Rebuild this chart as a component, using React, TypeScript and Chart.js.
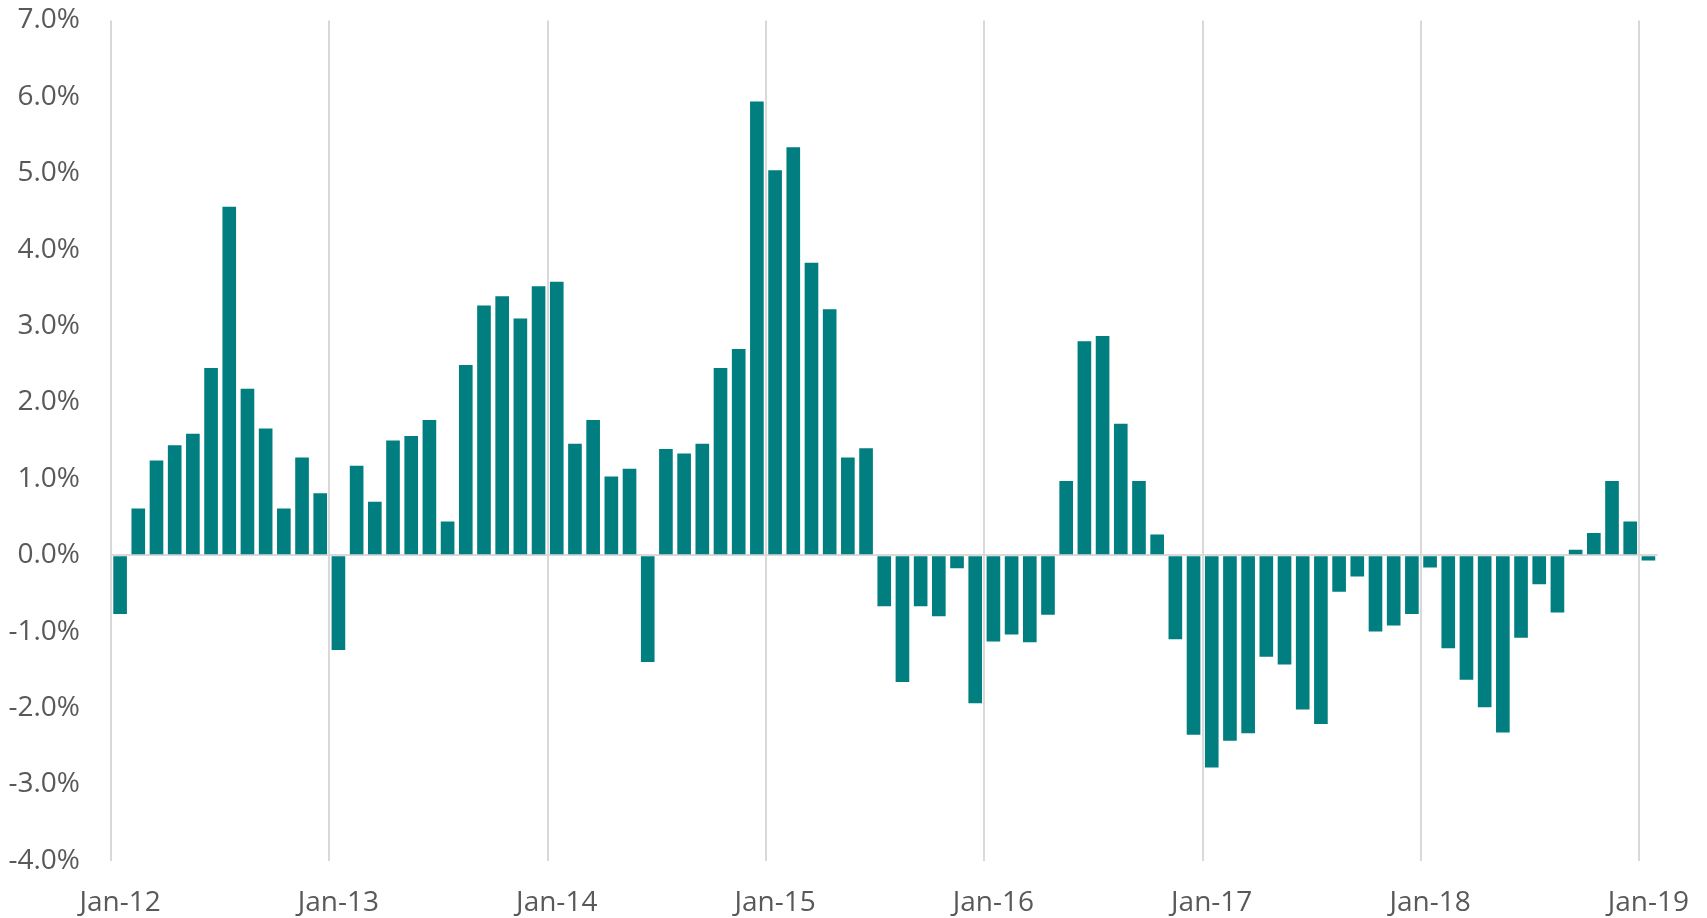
import React, { useEffect, useRef } from "react";
import { Chart, registerables } from "chart.js";

Chart.register(...registerables);

const MONTHS = ["Jan", "Feb", "Mar", "Apr", "May", "Jun", "Jul", "Aug", "Sep", "Oct", "Nov", "Dec"];
const YEARS = ["12", "13", "14", "15", "16", "17", "18", "19"];

const v2012 = [-0.77, 0.61, 1.24, 1.44, 1.59, 2.45, 4.56, 2.18, 1.66, 0.61, 1.28, 0.81];
const v2013 = [-1.24, 1.17, 0.7, 1.5, 1.56, 1.77, 0.44, 2.49, 3.27, 3.39, 3.1, 3.52];
const v2014 = [3.58, 1.46, 1.77, 1.03, 1.13, -1.4, 1.39, 1.33, 1.46, 2.45, 2.7, 5.94];
const v2015 = [5.04, 5.34, 3.83, 3.22, 1.28, 1.4, -0.67, -1.66, -0.67, -0.8, -0.17, -1.94];
const v2016 = [-1.13, -1.04, -1.14, -0.78, 0.97, 2.8, 2.87, 1.72, 0.97, 0.27, -1.1, -2.35];
const v2017 = [-2.78, -2.43, -2.33, -1.33, -1.43, -2.02, -2.21, -0.48, -0.28, -1.0, -0.92, -0.77];
const v2018 = [-0.16, -1.22, -1.63, -1.99, -2.32, -1.08, -0.38, -0.75, 0.07, 0.29, 0.97, 0.44];
const v2019 = [-0.07];

const values = [...v2012, ...v2013, ...v2014, ...v2015, ...v2016, ...v2017, ...v2018, ...v2019];
const categories: string[] = [];
YEARS.forEach((y) => MONTHS.forEach((m) => categories.push(m + "-" + y)));
categories.length = values.length;

const Y_MIN = -4;
const Y_MAX = 7;
const Y_STEP = 1;

const FONT = "'Open Sans', sans-serif";
const TEXT = "#595959";
const GRID = "#d9d9d9";
const BAR = "#007E80";

export default function App() {
  const ref = useRef<HTMLCanvasElement | null>(null);
  useEffect(() => {
    if (!ref.current) return;
    const chart = new Chart(ref.current, {
      type: "bar",
      data: {
        labels: categories,
        datasets: [
          {
            data: values,
            backgroundColor: BAR,
            borderWidth: 0,
            barPercentage: 0.75,
            categoryPercentage: 1,
          },
        ],
      },
      options: {
        animation: false,
        responsive: false,
        maintainAspectRatio: false,
        layout: { padding: { top: 20.5, right: 49.5, bottom: 0, left: 0 } },
        plugins: { legend: { display: false }, tooltip: { enabled: false } },
        scales: {
          x: {
            offset: true,
            border: { display: false },
            grid: {
              offset: true,
              drawTicks: false,
              lineWidth: 2,
              color: (ctx: any) => (ctx.index % 12 === 0 ? GRID : "rgba(0,0,0,0)"),
            },
            ticks: {
              autoSkip: false,
              maxRotation: 0,
              minRotation: 0,
              padding: 26,
              color: TEXT,
              font: { family: FONT, size: 28 },
              callback: (_v: any, i: number) => (i % 12 === 0 ? categories[i] : ""),
            },
            afterFit: (s: any) => {
              s.height = 57.3;
              s.paddingLeft = 0;
              s.paddingRight = 0;
            },
          },
          y: {
            min: Y_MIN,
            max: Y_MAX,
            border: { display: false },
            grid: {
              drawTicks: false,
              lineWidth: 2,
              color: (ctx: any) => (ctx.tick && ctx.tick.value === 0 ? GRID : "rgba(0,0,0,0)"),
            },
            ticks: {
              stepSize: Y_STEP,
              padding: 31,
              color: TEXT,
              font: { family: FONT, size: 28 },
              callback: (v: any) => Number(v).toFixed(1) + "%",
            },
            afterFit: (s: any) => {
              s.width = 111;
              s.paddingTop = 0;
              s.paddingBottom = 0;
            },
          },
        },
      },
    });
    return () => chart.destroy();
  }, []);
  return (
    <div style={{ position: "fixed", left: 0, top: 0, width: 1707, height: 918, background: "#fff" }}>
      <canvas ref={ref} width={1707} height={918} style={{ width: 1707, height: 918 }} />
    </div>
  );
}
